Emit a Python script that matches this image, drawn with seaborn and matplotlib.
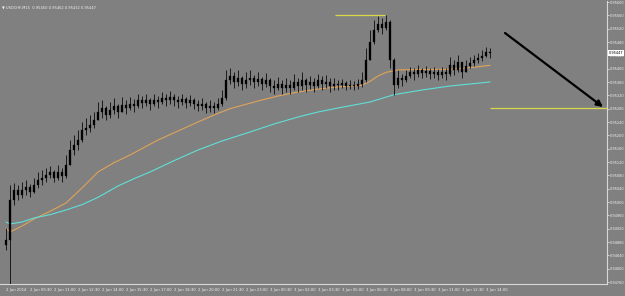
import numpy as np
import pandas as pd
import matplotlib
matplotlib.use("Agg")
import matplotlib.pyplot as plt
import seaborn as sns

# ---------------- data (USDCHF, M15) ----------------
title_text = "\u25bc USDCHF,M15  0.95450 0.95462 0.95432 0.95447"
first_open = 0.94870

close = [0.94886, 0.95006, 0.95036, 0.95021, 0.95036, 0.95045, 0.95030, 0.95051, 0.95066, 0.95072,
         0.95081, 0.95090, 0.95072, 0.95090, 0.95078, 0.95111, 0.95156, 0.95171, 0.95186, 0.95216,
         0.95222, 0.95231, 0.95246, 0.95270, 0.95282, 0.95261, 0.95276, 0.95288, 0.95270, 0.95291,
         0.95282, 0.95294, 0.95288, 0.95306, 0.95297, 0.95306, 0.95294, 0.95306, 0.95300, 0.95312,
         0.95306, 0.95315, 0.95306, 0.95300, 0.95309, 0.95297, 0.95306, 0.95294, 0.95288, 0.95294,
         0.95282, 0.95288, 0.95282, 0.95294, 0.95312, 0.95366, 0.95378, 0.95360, 0.95372, 0.95354,
         0.95366, 0.95372, 0.95360, 0.95369, 0.95354, 0.95366, 0.95348, 0.95342, 0.95354, 0.95342,
         0.95351, 0.95342, 0.95360, 0.95348, 0.95366, 0.95351, 0.95360, 0.95348, 0.95366, 0.95354,
         0.95360, 0.95348, 0.95354, 0.95351, 0.95357, 0.95348, 0.95351, 0.95348, 0.95354, 0.95366,
         0.95426, 0.95480, 0.95516, 0.95534, 0.95522, 0.95540, 0.95426, 0.95351, 0.95372, 0.95366,
         0.95378, 0.95390, 0.95384, 0.95396, 0.95387, 0.95393, 0.95384, 0.95390, 0.95381, 0.95390,
         0.95384, 0.95411, 0.95396, 0.95420, 0.95390, 0.95408, 0.95417, 0.95426, 0.95432, 0.95438,
         0.95450, 0.95447]
high = [0.94922, 0.95051, 0.95057, 0.95051, 0.95060, 0.95066, 0.95054, 0.95072, 0.95090, 0.95096,
        0.95102, 0.95108, 0.95096, 0.95111, 0.95102, 0.95141, 0.95186, 0.95201, 0.95216, 0.95240,
        0.95252, 0.95261, 0.95270, 0.95300, 0.95306, 0.95288, 0.95300, 0.95312, 0.95294, 0.95315,
        0.95306, 0.95315, 0.95309, 0.95324, 0.95318, 0.95324, 0.95312, 0.95324, 0.95318, 0.95330,
        0.95324, 0.95333, 0.95324, 0.95318, 0.95324, 0.95315, 0.95321, 0.95312, 0.95306, 0.95312,
        0.95300, 0.95306, 0.95300, 0.95312, 0.95336, 0.95396, 0.95402, 0.95390, 0.95396, 0.95378,
        0.95390, 0.95396, 0.95381, 0.95390, 0.95375, 0.95387, 0.95372, 0.95366, 0.95375, 0.95366,
        0.95372, 0.95366, 0.95384, 0.95372, 0.95390, 0.95372, 0.95378, 0.95372, 0.95384, 0.95378,
        0.95381, 0.95372, 0.95372, 0.95366, 0.95369, 0.95363, 0.95366, 0.95363, 0.95369, 0.95390,
        0.95462, 0.95516, 0.95546, 0.95558, 0.95552, 0.95561, 0.95546, 0.95432, 0.95396, 0.95384,
        0.95396, 0.95405, 0.95402, 0.95411, 0.95402, 0.95408, 0.95402, 0.95405, 0.95399, 0.95405,
        0.95402, 0.95435, 0.95426, 0.95441, 0.95420, 0.95426, 0.95435, 0.95441, 0.95447, 0.95456,
        0.95465, 0.95462]
low = [0.94856, 0.94751, 0.94991, 0.95006, 0.95012, 0.95021, 0.95015, 0.95027, 0.95042, 0.95051,
       0.95060, 0.95072, 0.95060, 0.95066, 0.95060, 0.95072, 0.95111, 0.95141, 0.95156, 0.95180,
       0.95201, 0.95210, 0.95222, 0.95246, 0.95252, 0.95246, 0.95252, 0.95264, 0.95252, 0.95270,
       0.95264, 0.95276, 0.95270, 0.95282, 0.95282, 0.95288, 0.95276, 0.95288, 0.95282, 0.95294,
       0.95288, 0.95294, 0.95288, 0.95282, 0.95291, 0.95282, 0.95288, 0.95279, 0.95273, 0.95276,
       0.95267, 0.95270, 0.95267, 0.95276, 0.95288, 0.95306, 0.95354, 0.95342, 0.95348, 0.95336,
       0.95342, 0.95351, 0.95342, 0.95348, 0.95336, 0.95345, 0.95330, 0.95324, 0.95336, 0.95324,
       0.95330, 0.95324, 0.95336, 0.95330, 0.95336, 0.95330, 0.95339, 0.95330, 0.95342, 0.95336,
       0.95342, 0.95330, 0.95336, 0.95336, 0.95342, 0.95336, 0.95339, 0.95336, 0.95339, 0.95345,
       0.95360, 0.95426, 0.95474, 0.95510, 0.95504, 0.95516, 0.95402, 0.95321, 0.95342, 0.95348,
       0.95360, 0.95372, 0.95366, 0.95375, 0.95372, 0.95375, 0.95369, 0.95372, 0.95366, 0.95372,
       0.95366, 0.95378, 0.95381, 0.95390, 0.95372, 0.95390, 0.95402, 0.95408, 0.95417, 0.95423,
       0.95435, 0.95432]

# moving averages (bar index, price)
ma_fast_bar = [0, 1, 4, 7, 11, 15, 19, 23, 27, 31, 38, 43, 48, 52, 56, 63, 68, 73, 78, 83, 89,
               91, 93, 95, 98, 104, 111, 116, 121]
ma_fast_val = [0.94922, 0.94910, 0.94928, 0.94949, 0.94972, 0.94997, 0.95042, 0.95090, 0.95118,
               0.95141, 0.95186, 0.95213, 0.95240, 0.95261, 0.95280, 0.95303, 0.95318, 0.95330,
               0.95339, 0.95345, 0.95350, 0.95362, 0.95378, 0.95389, 0.95396, 0.95398, 0.95398,
               0.95403, 0.95410]
ma_slow_bar = [0, 1, 4, 7, 11, 15, 19, 23, 28, 32, 36, 42, 48, 54, 61, 67, 73, 78, 83, 91, 97,
               104, 111, 116, 121]
ma_slow_val = [0.94940, 0.94934, 0.94940, 0.94952, 0.94962, 0.94976, 0.94992, 0.95014, 0.95048,
               0.95070, 0.95090, 0.95124, 0.95156, 0.95183, 0.95210, 0.95234, 0.95255, 0.95270,
               0.95282, 0.95300, 0.95322, 0.95336, 0.95348, 0.95354, 0.95360]

# horizontal levels: (price, start bar, end bar)
level_high = (0.95561, 82.25, 94.75)
level_low = (0.95282, 121.0, 150.25)
# trend arrow (bar, price) -> (bar, price)
arrow_from = (124.75, 0.95507)
arrow_to = (149.25, 0.95285)

y_ticks = [0.95600 - 0.00040 * k for k in range(22)]
x_tick_bars = list(range(0, 121, 6))
x_tick_labels = ["2 Jun 2014", "2 Jun 09:30", "2 Jun 11:00", "2 Jun 12:30", "2 Jun 14:00",
                 "2 Jun 15:30", "2 Jun 17:00", "2 Jun 18:30", "2 Jun 20:00", "2 Jun 21:30",
                 "2 Jun 23:00", "3 Jun 00:30", "3 Jun 02:00", "3 Jun 03:30", "3 Jun 05:00",
                 "3 Jun 06:30", "3 Jun 08:00", "3 Jun 09:30", "3 Jun 11:00", "3 Jun 12:30",
                 "3 Jun 14:00"]
last_price = 0.95447

# ---------------- drawing ----------------
sns.set_style("dark")
plt.rcParams["font.family"] = ["DejaVu Sans"]

BG = "#808080"
fig = plt.figure(figsize=(6.25, 2.96), dpi=100, facecolor=BG)
ax = fig.add_axes([0, 12 / 296, 607 / 625, 283 / 296])
ax.set_facecolor(BG)

bars = np.arange(len(close))
c = np.array(close)
o = np.r_[first_open, c[:-1]]
ax.vlines(bars, low, high, color="black", lw=0.55, zorder=3)
bottoms = np.minimum(o, c)
heights = np.maximum(np.abs(c - o), 0.00002)
ax.bar(bars, heights, bottom=bottoms, width=0.38, color="black", edgecolor="black", lw=0.2, zorder=3)

fast = pd.DataFrame({"bar": ma_fast_bar, "price": ma_fast_val})
slow = pd.DataFrame({"bar": ma_slow_bar, "price": ma_slow_val})
sns.lineplot(data=fast, x="bar", y="price", color="#e0a35a", lw=0.8, ax=ax, legend=False, zorder=2)
sns.lineplot(data=slow, x="bar", y="price", color="#5fe0d8", lw=0.8, ax=ax, legend=False, zorder=2)

ax.hlines(level_high[0], level_high[1], level_high[2], color="#d8d84a", lw=0.9, zorder=4)
ax.hlines(level_low[0], level_low[1], level_low[2], color="#d8d84a", lw=0.9, zorder=4)
ax.annotate("", xy=arrow_to, xytext=arrow_from,
            arrowprops=dict(arrowstyle="-|>", color="black", lw=1.6, mutation_scale=9,
                            shrinkA=0, shrinkB=0), zorder=5)

ax.set_xlim(-1.5, 150.25)
ax.set_ylim(0.94754, 0.95603)
ax.set_xlabel("")
ax.set_ylabel("")
ax.grid(False)

ax.yaxis.tick_right()
ax.set_yticks(y_ticks)
ax.set_yticklabels([f"{v:.5f}" for v in y_ticks])
ax.tick_params(axis="y", labelsize=2.5, colors="#f0f0f0", length=1.5, width=0.5, pad=0.8)
ax.set_xticks(x_tick_bars)
ax.set_xticklabels(x_tick_labels, ha="left")
ax.tick_params(axis="x", labelsize=2.7, colors="#f0f0f0", length=2, width=0.5, pad=1)

for side in ["top", "left"]:
    ax.spines[side].set_visible(False)
for side in ["right", "bottom"]:
    ax.spines[side].set_visible(True)
    ax.spines[side].set_color("#d8d8d8")
    ax.spines[side].set_linewidth(0.8)

ax.text(1.003, last_price, f"{last_price:.5f}", transform=ax.get_yaxis_transform(),
        fontsize=2.5, color="black", va="center", ha="left", clip_on=False, zorder=6,
        bbox=dict(boxstyle="square,pad=0.2", fc="white", ec="white", lw=0))

ax.text(0.004, 0.985, title_text, transform=ax.transAxes, fontsize=2.6, color="#f0f0f0",
        va="top", ha="left")

fig.savefig("out.png", dpi=100, facecolor=BG)
